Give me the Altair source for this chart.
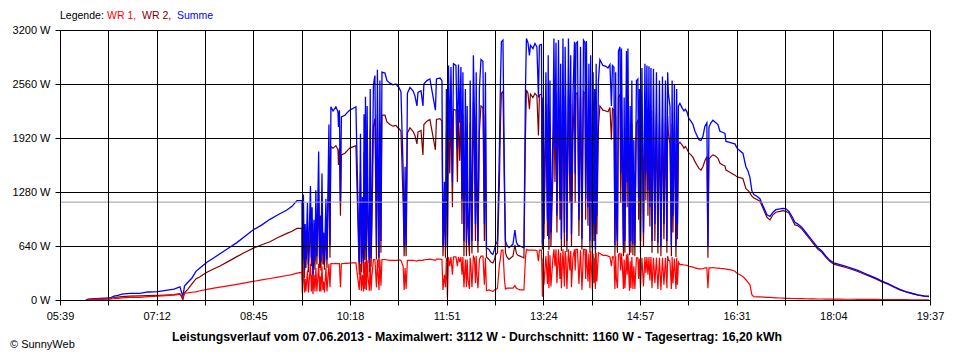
import altair as alt
import pandas as pd

# time of each reading, minutes since midnight
time_min = [
    364.0, 366.0, 377.5, 387.2, 391.0, 394.9, 398.7, 406.4, 416.1, 423.8,
    433.4, 441.1, 448.9, 454.6, 457.5, 459.0, 462.3, 466.2, 470.0, 473.9,
    480.6, 487.4, 493.2, 500.9, 509.5, 517.3, 525.0, 533.6, 541.4, 549.1,
    557.7, 562.6, 567.4, 572.2,
    572.5, 573.6, 574.6, 576.0, 577.5, 578.4, 580.4, 581.3, 582.8, 583.8,
    584.7, 586.6, 588.3, 589.2, 590.5, 592.4, 593.9, 595.3, 596.3, 598.2,
    599.2, 600.1, 602.1, 604.9, 606.9, 607.4, 608.3, 609.3, 610.2, 613.6,
    616.5, 618.4, 621.3, 624.2, 627.4, 628.6, 629.5, 630.5, 631.5, 633.4,
    634.3, 635.8, 637.2, 639.6, 641.1, 642.5, 644.0, 644.9, 646.4, 647.3,
    648.3, 649.3, 652.2, 654.1, 657.0, 659.9, 662.8, 664.7,
    665.2, 667.6, 669.7, 670.7, 671.6, 672.6, 673.8, 676.3, 679.2, 681.1,
    683.0, 684.0, 686.9, 688.8, 689.7, 692.6, 695.5, 700.8, 701.8, 705.2,
    707.1, 708.1, 709.5, 710.5, 712.4, 713.4, 715.8, 717.2, 718.2, 720.6,
    722.0, 723.0, 725.4, 726.4, 727.3, 728.3, 729.7, 730.7, 732.1, 733.6,
    735.0, 736.0, 737.4, 738.4, 739.4, 740.8, 741.8, 743.2, 744.7, 746.6,
    748.0, 749.0, 750.0, 752.4, 754.3, 756.2, 757.7, 758.6, 760.6, 762.5,
    763.5,
    764.4, 765.9, 767.3, 768.3, 769.7, 771.7, 773.6, 775.5, 777.4, 778.9,
    780.3, 782.3, 784.2, 786.1, 787.6, 788.5, 790.0, 791.4, 792.4, 794.8,
    796.7, 798.6, 800.1, 801.0, 803.0, 803.9, 805.4, 807.3, 808.8, 810.2,
    812.1, 814.1, 815.0, 817.0, 817.9, 819.4, 820.8, 822.2, 823.7, 825.1,
    826.6, 827.5, 829.0, 830.4, 831.9, 833.3, 834.8, 836.2, 837.7, 839.1,
    840.6, 842.0, 843.5, 844.9, 846.3, 847.8, 848.7, 849.7, 851.1, 852.1,
    853.6, 855.0, 856.4, 857.9, 859.3, 862.2, 865.1, 867.1,
    869.0, 870.4, 871.4, 872.8, 873.8, 875.2, 876.2, 877.2, 878.6, 880.1,
    881.0, 882.0, 883.4, 884.9, 886.3, 887.8, 889.2, 891.1, 893.0, 894.5,
    895.9, 897.4, 898.4, 899.8, 901.3, 902.7, 904.6, 905.6, 906.6, 908.5,
    909.5, 910.9, 912.3, 913.8, 915.2, 916.7, 918.1, 919.6, 921.0, 922.5,
    923.9, 925.3, 926.8, 928.2, 929.7, 931.1, 932.6, 934.0, 935.0, 936.4,
    938.4, 940.3, 941.7, 943.2, 945.1, 947.0, 949.0, 950.9, 952.8, 954.7,
    956.7, 958.6, 960.5, 962.4, 963.4, 964.4, 966.3, 968.2,
    970.2, 973.1, 975.0, 977.9, 979.8, 980.8, 983.7, 986.5, 989.4, 991.4,
    994.2, 997.1, 1000.0, 1002.0, 1003.9, 1005.8, 1007.7, 1010.6, 1013.5, 1017.4,
    1020.3, 1023.2, 1026.1, 1028.9, 1032.8, 1035.7, 1038.6, 1041.5, 1044.4, 1047.2,
    1050.1, 1054.0, 1057.8, 1061.7, 1065.5, 1069.4, 1073.2, 1077.1, 1081.0, 1084.8,
    1090.6, 1096.4, 1102.2, 1107.9, 1113.7, 1119.5, 1125.3, 1131.1, 1136.9, 1142.7,
    1148.4, 1154.2, 1160.0, 1165.8, 1171.6, 1176.4,
]

# Summe (W)
summe = [
    0, 10, 20, 24, 45, 55, 70, 78, 79, 95,
    100, 115, 128, 155, 40, 165, 210, 260, 340, 380,
    447, 500, 548, 610, 680, 755, 830, 890, 956, 1010,
    1067, 1110, 1177, 1178,
    300, 1250, 350, 480, 1150, 420, 1350, 500, 300, 950,
    460, 520, 1760, 480, 450, 540, 450, 1200, 480, 2080,
    650, 2290, 2240, 2290, 2230, 2050, 2250, 1150, 2170, 2190,
    2230, 2250, 2270, 2290, 450, 1970, 450, 1220, 430, 2410,
    500, 1150, 440, 1150, 2550, 2660, 630, 2730, 500, 2600,
    700, 2700, 2690, 2600, 2570, 2550, 2560, 2530,
    2530, 2470, 1550, 640, 1580, 650, 2450, 2520, 2480, 2420,
    2300, 2460, 2480, 2300, 2560, 2600, 2620, 2250, 2620, 2630,
    2600, 640, 1400, 650, 650, 2780, 2760, 1400, 2800, 2780,
    1800, 2790, 2760, 1200, 2700, 700, 2500, 680, 1100, 650,
    1700, 700, 2900, 2200, 900, 1500, 700, 2500, 2850, 2830,
    900, 2700, 620, 600, 560, 540, 600, 650, 700, 1800,
    2600,
    3060, 3080, 1500, 700, 650, 620, 640, 660, 830, 680,
    650, 640, 630, 620, 2500, 3100, 3050, 2900, 3020, 2980,
    3040, 3000, 2400, 3020, 3030, 660, 900, 2700, 950, 720,
    800, 2000, 3100, 3050, 1000, 3080, 1200, 720, 3100, 800,
    2200, 700, 3100, 1500, 780, 2400, 3060, 3040, 3060, 950,
    3000, 720, 3080, 3050, 3070, 1100, 2800, 700, 1800, 620,
    900, 600, 1000, 2600, 2850, 2780, 2770, 2750,
    2790, 2300, 2780, 2760, 650, 1200, 700, 2950, 3000, 2980,
    1800, 650, 700, 2950, 2980, 640, 700, 660, 650, 2600,
    2620, 2500, 700, 2750, 800, 2800, 2780, 1300, 2770, 2750,
    700, 2740, 900, 2700, 680, 2600, 640, 2650, 900, 2600,
    700, 2450, 2300, 650, 1000, 2550, 640, 900, 2300, 2330,
    2280, 2240, 2260, 2230, 2150, 2120, 2080, 2000, 1950, 1900,
    1890, 1940, 2060, 2100, 640, 2050, 2100, 2130,
    2110, 2080, 2000, 1985, 1975, 1880, 1870, 1860, 1850, 1800,
    1770, 1740, 1580, 1530, 1450, 1290, 1250, 1230, 1200, 1090,
    1010, 990, 1040, 1070, 1080, 1085, 1080, 1050, 990, 920,
    900, 860, 800, 740, 680, 620, 580, 520, 470, 440,
    420, 400, 375, 350, 320, 290, 260, 225, 195, 160,
    125, 100, 80, 62, 50, 45,
]

# WR 2 (W)
wr2 = [
    0, 5, 10, 12, 30, 35, 40, 45, 48, 51,
    55, 59, 65, 75, 5, 85, 130, 190, 250, 275,
    328, 370, 403, 455, 514, 565, 612, 655, 691, 740,
    790, 815, 849, 850,
    220, 850, 260, 380, 800, 330, 920, 400, 230, 650,
    360, 420, 1250, 380, 350, 420, 360, 850, 380, 1650,
    500, 1820, 1800, 1830, 1780, 1600, 1800, 1000, 1720, 1740,
    1780, 1800, 1815, 1830, 300, 1500, 330, 900, 320, 1900,
    380, 850, 330, 860, 2050, 2150, 480, 2200, 380, 2100,
    560, 2190, 2190, 2110, 2080, 2060, 2070, 2040,
    2040, 2000, 1150, 520, 1200, 520, 1980, 2040, 2000, 1950,
    1850, 1990, 2010, 1720, 2080, 2120, 2140, 1780, 2140, 2150,
    2120, 520, 1100, 500, 600, 2250, 2240, 1100, 2260, 2250,
    1400, 2260, 2240, 900, 2200, 520, 2000, 520, 850, 520,
    1300, 550, 2350, 1700, 700, 1200, 560, 2000, 2300, 2280,
    700, 2200, 510, 480, 450, 440, 480, 530, 560, 1400,
    2100,
    2450, 2470, 1300, 560, 510, 480, 500, 520, 650, 550,
    530, 520, 510, 500, 1950, 2490, 2450, 2260, 2440, 2400,
    2450, 2420, 1950, 2430, 2440, 600, 720, 2180, 760, 590,
    640, 1500, 2500, 2450, 800, 2470, 950, 580, 2500, 640,
    1700, 570, 2490, 1150, 630, 1900, 2460, 2440, 2460, 760,
    2400, 600, 2470, 2450, 2470, 880, 2250, 560, 1400, 500,
    700, 470, 780, 2050, 2300, 2250, 2240, 2230,
    2280, 1900, 2270, 2250, 520, 950, 560, 2400, 2440, 2430,
    1400, 520, 560, 2410, 2430, 530, 560, 530, 520, 2100,
    2130, 2000, 560, 2250, 640, 2290, 2280, 1000, 2270, 2250,
    560, 2240, 700, 2200, 550, 2100, 520, 2150, 720, 2100,
    560, 1980, 1850, 520, 800, 2050, 510, 720, 1850, 1870,
    1840, 1800, 1820, 1790, 1740, 1720, 1690, 1640, 1600, 1560,
    1540, 1580, 1650, 1700, 500, 1670, 1700, 1720,
    1710, 1680, 1620, 1600, 1590, 1540, 1520, 1500, 1480, 1460,
    1450, 1440, 1320, 1300, 1270, 1230, 1210, 1190, 1170, 1060,
    980, 950, 1010, 1040, 1050, 1060, 1050, 1030, 960, 890,
    880, 840, 780, 720, 660, 600, 565, 505, 455, 425,
    405, 385, 362, 338, 308, 280, 250, 215, 186, 152,
    118, 95, 76, 58, 46, 40,
]

# WR 1 (W)
wr1 = [
    0, 5, 10, 12, 15, 20, 25, 32, 32, 39,
    45, 51, 58, 70, 35, 80, 85, 92, 97, 110,
    125, 140, 152, 168, 186, 203, 220, 238, 255, 272,
    290, 300, 318, 328,
    80, 400, 90, 100, 350, 90, 430, 100, 70, 300,
    100, 100, 430, 100, 100, 120, 90, 380, 100, 430,
    150, 430, 430, 435, 430, 430, 430, 150, 430, 435,
    435, 440, 440, 440, 120, 430, 110, 300, 100, 460,
    120, 280, 110, 280, 480, 480, 150, 480, 120, 480,
    170, 480, 480, 475, 470, 470, 470, 470,
    475, 470, 400, 120, 380, 130, 470, 470, 470, 465,
    460, 470, 470, 470, 475, 480, 485, 470, 485, 485,
    480, 120, 300, 150, 20, 510, 510, 300, 510, 510,
    400, 510, 510, 300, 510, 150, 480, 150, 250, 130,
    400, 150, 520, 500, 200, 300, 140, 480, 520, 520,
    180, 500, 110, 120, 110, 100, 120, 120, 140, 420,
    500,
    590, 590, 250, 130, 140, 140, 140, 140, 170, 140,
    130, 120, 120, 120, 500, 600, 590, 590, 590, 590,
    590, 585, 460, 590, 590, 40, 180, 520, 190, 140,
    160, 500, 600, 600, 200, 600, 250, 140, 600, 160,
    500, 130, 600, 350, 150, 500, 600, 600, 600, 190,
    590, 120, 600, 600, 600, 220, 550, 140, 400, 120,
    200, 130, 220, 560, 550, 530, 530, 520,
    510, 400, 510, 510, 130, 250, 140, 540, 550, 550,
    400, 130, 140, 540, 550, 110, 140, 130, 130, 500,
    500, 490, 140, 500, 160, 510, 510, 300, 510, 510,
    140, 500, 200, 500, 130, 500, 120, 500, 180, 500,
    140, 480, 460, 130, 200, 490, 130, 180, 450, 420,
    420, 415, 415, 410, 400, 395, 390, 380, 375, 370,
    368, 370, 380, 380, 140, 380, 380, 385,
    380, 378, 375, 372, 370, 365, 360, 355, 340, 318,
    300, 280, 240, 210, 180, 60, 40, 38, 36, 34,
    32, 30, 28, 26, 24, 22, 20, 20, 18, 18,
    16, 16, 15, 14, 13, 12, 12, 11, 11, 10,
    10, 9, 9, 8, 8, 7, 7, 6, 6, 5,
    5, 4, 3, 3, 2, 2,
]

# further short spikes read in the cloudy hours (merged with the readings above)
spike_time = [
    575.3, 582.0, 585.6, 589.8, 591.5, 593.1, 632.0, 632.8, 635.0, 638.0,
    638.8, 711.4, 714.6, 724.2, 731.4, 734.3, 740.1, 804.6, 809.5, 811.2,
    816.0, 821.5, 825.8, 831.2, 835.5, 845.6, 850.4, 852.8, 854.3, 855.7,
    874.5, 879.4, 882.7, 885.6, 888.5, 890.1, 892.0, 896.6, 903.6, 907.5,
    924.6, 928.9, 933.3,
]
spike_summe = [
    900, 1100, 1300, 1000, 1500, 800, 2200, 600, 2300, 2500,
    500, 2500, 1900, 2100, 2300, 2600, 2700, 2400, 2900, 2600,
    1800, 2800, 3000, 2900, 1500, 1200, 2900, 2700, 2500, 2800,
    2700, 1500, 2400, 1400, 2300, 2600, 1900, 1200, 1500, 1100,
    2700, 2600, 2500,
]
spike_wr2 = [
    650, 800, 920, 720, 1100, 580, 1750, 470, 1830, 2020,
    390, 2000, 1500, 1650, 1820, 2100, 2180, 1900, 2320, 2070,
    1400, 2240, 2420, 2320, 1150, 950, 2320, 2150, 2000, 2240,
    2180, 1150, 1920, 1100, 1840, 2090, 1500, 950, 1180, 870,
    2180, 2090, 2000,
]
spike_wr1 = [
    250, 300, 380, 280, 400, 220, 450, 130, 470, 480,
    110, 500, 400, 450, 480, 500, 520, 500, 580, 530,
    400, 560, 580, 580, 350, 250, 580, 550, 500, 560,
    520, 350, 480, 300, 460, 510, 400, 250, 320, 230,
    520, 510, 500,
]

assert len(time_min) == len(summe) == len(wr2) == len(wr1)
assert len(spike_time) == len(spike_summe) == len(spike_wr2) == len(spike_wr1)

y_ticks = [0, 640, 1280, 1920, 2560, 3200]
x_start = 339.05      # 05:39
x_half_step = 46.575  # half of the 93-minute label interval
x_ticks = [round(x_start + k * x_half_step, 3) for k in range(19)]
average_w = 1160

legend_parts = [("Legende:", "black"), ("WR 1,", "#ff0000"), ("WR 2,", "#800000"), ("Summe", "#0000ff")]
bottom_title = "Leistungsverlauf vom 07.06.2013 - Maximalwert: 3112 W - Durchschnitt: 1160 W - Tagesertrag: 16,20 kWh"
credit = "© SunnyWeb"

df = pd.concat([
    pd.DataFrame({"t": time_min, "summe": summe, "wr2": wr2, "wr1": wr1}),
    pd.DataFrame({"t": spike_time, "summe": spike_summe, "wr2": spike_wr2, "wr1": spike_wr1}),
]).sort_values("t").reset_index(drop=True)

FONT = "Liberation Sans"

x_scale = alt.Scale(domain=[x_ticks[0], x_ticks[-1]], nice=False, zero=False)
y_scale = alt.Scale(domain=[0, 3200], nice=False)

x_label_expr = (
    "(round((datum.value - 339.05) / 46.575) % 2 == 0) ? "
    "((floor(datum.value / 60) < 10 ? '0' : '') + floor(datum.value / 60) + ':' + "
    "(floor(datum.value % 60) < 10 ? '0' : '') + floor(datum.value % 60)) : ''"
)

x_axis = alt.Axis(
    values=x_ticks, labelExpr=x_label_expr, grid=True, gridColor="black", gridOpacity=1,
    gridWidth=1, tickColor="black", tickSize=5, tickWidth=1, domain=False, title=None,
    labelFont=FONT, labelFontSize=11, labelColor="black", labelPadding=5,
    labelOverlap=False, labelFlush=False, zindex=1,
)
y_axis = alt.Axis(
    values=y_ticks, labelExpr="datum.value + ' W'", grid=True, gridColor="black", gridOpacity=1,
    gridWidth=1, tickColor="black", tickSize=5, tickWidth=1, domain=False, title=None,
    labelFont=FONT, labelFontSize=11, labelColor="black", labelPadding=5,
    labelOverlap=False, labelFlush=False, zindex=1,
)


def series(field, color, width=1.2):
    return alt.Chart(df).mark_line(interpolate="linear", color=color, strokeWidth=width).encode(
        x=alt.X("t:Q", scale=x_scale, axis=x_axis),
        y=alt.Y(f"{field}:Q", scale=y_scale, axis=y_axis),
    )


avg_rule = alt.Chart(pd.DataFrame({"avg": [average_w]})).mark_rule(
    color="#999999", strokeWidth=1
).encode(y=alt.Y("avg:Q", scale=y_scale, axis=y_axis))


def label(text, x, y, color="black", bold=False, align="left", size=11):
    return alt.Chart(pd.DataFrame({"s": [text]})).mark_text(
        align=align, baseline="middle", font=FONT, fontSize=size,
        fontWeight="bold" if bold else "normal", color=color,
    ).encode(x=alt.value(x), y=alt.value(y), text="s:N")


legend_x = [0, 47, 82, 117]
legend_layers = [label(t, lx, -14, color=c, size=10.5) for (t, c), lx in zip(legend_parts, legend_x)]

chart = alt.layer(
    series("wr2", "#800000"),
    series("summe", "#0000ff", 1.3),
    series("wr1", "#ff0000"),
    avg_rule,
    *legend_layers,
    label(bottom_title, 417, 307, bold=True, align="center", size=12.3),
    label(credit, -50, 315),
).properties(
    width=870,
    height=270,
    padding={"left": 52, "top": 22, "right": 22, "bottom": 56},
    autosize=alt.AutoSizeParams(type="none"),
).configure_view(stroke="black", strokeWidth=1).configure(background="white")

chart.save("out.html", embed_options={"renderer": "svg", "actions": False})
